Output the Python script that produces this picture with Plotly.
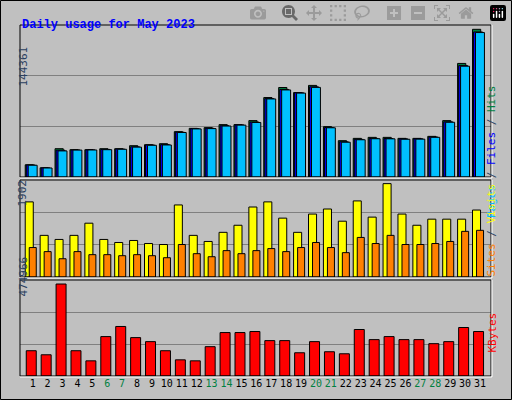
import plotly.graph_objects as go

days = list(range(1, 32))
hits = [11960, 9020, 27650, 26680, 26680, 27650, 27650, 30600, 31580, 32560, 44330, 47560,
        48250, 51190, 51190, 55110, 77670, 87480, 82560, 89530, 49230, 35500, 37760, 38740,
        38740, 37760, 37760, 39720, 55110, 111010, 144361]
files = [11700, 8900, 26200, 26400, 26500, 27000, 27300, 29500, 31300, 31600, 43800, 47200,
         47600, 50100, 50900, 53700, 76600, 85600, 82300, 88100, 48400, 34400, 36800, 37700,
         37600, 37200, 37300, 39100, 53900, 108900, 141800]
pages = [11500, 8800, 25500, 26300, 26400, 26700, 27100, 29200, 31000, 31300, 43500, 47000,
         47300, 49800, 50700, 53300, 76300, 85100, 82000, 87600, 48100, 34000, 36400, 37400,
         37300, 36900, 37000, 38800, 53500, 108300, 141200]
visits = [1530, 848, 765, 848, 1096, 765, 703, 744, 682, 662, 1468, 848, 724, 910, 1054, 1426,
          1530, 1199, 910, 1282, 1385, 1137, 1550, 1220, 1902, 1282, 1054, 1178, 1178, 1178, 1364]
sites = [600, 517, 372, 517, 455, 455, 434, 455, 434, 393, 662, 475, 413, 537, 475, 537,
         579, 517, 600, 703, 600, 496, 806, 682, 848, 662, 662, 682, 724, 930, 951]
kbytes = [130500, 109600, 474966, 130500, 78300, 203600, 255800, 198300, 177500, 130500, 83500,
          78300, 151400, 224400, 224400, 229700, 182700, 182700, 120000, 177500, 125300, 114800,
          240100, 187900, 203600, 187900, 187900, 167000, 177500, 250500, 229700]
weekend = [6, 7, 13, 14, 20, 21, 27, 28]

W, H = 512, 400
def py(p):
    return 1 - p / H

fig = go.Figure()
line = dict(color="black", width=1)
fig.add_bar(x=days, y=hits, marker=dict(color="#008040", line=line), offset=-0.5, width=0.55)
fig.add_bar(x=days, y=files, marker=dict(color="#0000ff", line=line), offset=-0.43, width=0.6)
fig.add_bar(x=days, y=pages, marker=dict(color="#00c0ff", line=line), offset=-0.3, width=0.6)
fig.add_bar(x=days, y=visits, marker=dict(color="#ffff00", line=line), offset=-0.5, width=0.54,
            xaxis="x2", yaxis="y2")
fig.add_bar(x=days, y=sites, marker=dict(color="#ff8000", line=line), offset=-0.23, width=0.47,
            xaxis="x2", yaxis="y2")
fig.add_bar(x=days, y=kbytes, marker=dict(color="#ff0000", line=line), offset=-0.43, width=0.67,
            xaxis="x3", yaxis="y3")

xr = [0.15, 31.74]
xd = [20 / W, 491 / W]
ranges = [148580, 1976, 495800]
doms = [[py(177), py(25)], [py(277), py(180)], [py(376), py(280)]]
ticktext = ["<span style='color:%s'>%d</span>" % ("#008040" if d in weekend else "black", d)
            for d in days]
for i, (r, d) in enumerate(zip(ranges, doms)):
    s = "" if i == 0 else str(i + 1)
    fig.layout["xaxis" + s] = dict(domain=xd, range=xr, showgrid=False, zeroline=False,
                                   anchor="y" + s, tickvals=days if i == 2 else [],
                                   ticktext=ticktext, ticks="", tickangle=0,
                                   tickfont=dict(family="DejaVu Sans Mono", size=10))
    fig.layout["yaxis" + s] = dict(domain=d, range=[0, r], tickvals=[r / 3, 2 * r / 3],
                                   showticklabels=False, gridcolor="#808080", gridwidth=1,
                                   zeroline=False, anchor="x" + s)

shapes = [dict(type="rect", xref="paper", yref="paper", x0=0.5 / W, x1=1 - 0.5 / W,
               y0=0.5 / H, y1=1 - 0.5 / H, line=dict(color="black", width=1))]
for top, bot in [(25, 177), (180, 277), (280, 376)]:
    shapes.append(dict(type="rect", xref="paper", yref="paper", x0=xd[0], x1=xd[1],
                       y0=py(bot), y1=py(top), line=dict(color="black", width=1)))
    shapes.append(dict(type="line", xref="paper", yref="paper", x0=xd[0], x1=xd[1] + 1 / W,
                       y0=py(bot + 1), y1=py(bot + 1), line=dict(color="white", width=1)))
    shapes.append(dict(type="line", xref="paper", yref="paper", x0=xd[1] + 1 / W, x1=xd[1] + 1 / W,
                       y0=py(bot + 1), y1=py(top), line=dict(color="white", width=1)))

mono = "DejaVu Sans Mono"
ann = [
    dict(text="<b>Daily usage for May 2023</b>", x=20 / W, y=py(16), xanchor="left",
         font=dict(family="Liberation Mono", size=12, color="#0000ff")),
    dict(text="144361", x=14 / W, y=py(45), textangle=-90, font=dict(family=mono, size=11)),
    dict(text="1902", x=14 / W, y=py(193), textangle=-90, font=dict(family=mono, size=11)),
    dict(text="474966", x=14 / W, y=py(299), textangle=-90, font=dict(family=mono, size=11)),
    dict(text="<span style='color:#00c0ff'>Pages</span> / <span style='color:#0000ff'>Files</span>"
              " / <span style='color:#008040'>Hits</span>",
         x=500 / W, y=py(83), textangle=-90, font=dict(family=mono, size=11)),
    dict(text="<span style='color:#ff8000'>Sites</span> / <span style='color:#ffff00'>Visits</span>",
         x=500 / W, y=py(230), textangle=-90, font=dict(family=mono, size=11)),
    dict(text="<span style='color:#ff0000'>KBytes</span>",
         x=500 / W, y=py(355), textangle=-90, font=dict(family=mono, size=11)),
]
for a in ann:
    a.update(xref="paper", yref="paper", showarrow=False)

fig.update_layout(width=W, height=H, margin=dict(l=0, r=0, t=0, b=0), showlegend=False,
                  paper_bgcolor="#c0c0c0", plot_bgcolor="#c0c0c0", barmode="overlay",
                  shapes=shapes, annotations=ann)
fig.write_html("out.html", post_script="document.body.style.margin='0';")
